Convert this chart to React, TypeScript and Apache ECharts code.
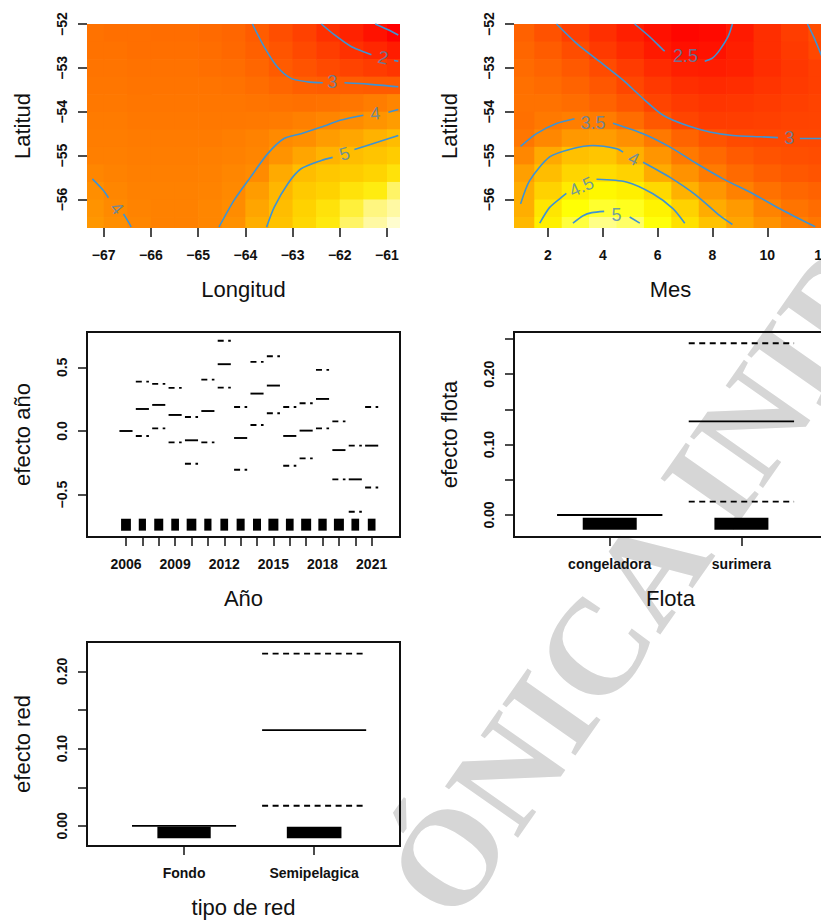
import { useEffect, useRef } from 'react';
import * as echarts from 'echarts';

const FONT = '"Liberation Sans", Arial, Helvetica, sans-serif';
const INK = '#111111';
const CONTOUR = '#3D93D4';
const CONTOUR_LABEL = '#4E86B6';

// ---------- Panel 1: Longitud x Latitud (fitted surface) ----------
const lonCenters = [-67.25, -66.75, -66.25, -65.75, -65.25, -64.75, -64.25, -63.75, -63.25, -62.75, -62.25, -61.75, -61.25, -60.75];
const latCenters = [-52.2, -52.6, -53.0, -53.4, -53.8, -54.2, -54.6, -55.0, -55.4, -55.8, -56.2, -56.6];
const lonLatValues = [
  [3.45, 3.40, 3.40, 3.35, 3.35, 3.30, 3.20, 3.00, 2.70, 2.40, 2.05, 1.70, 1.35, 1.00],
  [3.45, 3.45, 3.40, 3.40, 3.40, 3.35, 3.25, 3.08, 2.85, 2.60, 2.32, 2.07, 1.82, 1.55],
  [3.50, 3.50, 3.45, 3.45, 3.45, 3.40, 3.35, 3.20, 2.98, 2.82, 2.62, 2.45, 2.30, 2.15],
  [3.55, 3.55, 3.50, 3.50, 3.50, 3.50, 3.45, 3.35, 3.20, 3.07, 3.02, 3.02, 2.98, 2.97],
  [3.60, 3.60, 3.55, 3.55, 3.55, 3.55, 3.55, 3.50, 3.45, 3.42, 3.45, 3.55, 3.70, 3.88],
  [3.65, 3.65, 3.60, 3.60, 3.60, 3.60, 3.60, 3.62, 3.67, 3.77, 3.88, 4.05, 4.22, 4.42],
  [3.70, 3.70, 3.65, 3.65, 3.65, 3.67, 3.72, 3.82, 4.00, 4.12, 4.40, 4.62, 4.88, 5.08],
  [3.75, 3.75, 3.70, 3.70, 3.70, 3.75, 3.80, 3.88, 4.20, 4.60, 4.90, 5.10, 5.25, 5.40],
  [3.92, 3.82, 3.75, 3.75, 3.75, 3.80, 3.90, 4.03, 4.70, 5.10, 5.30, 5.40, 5.52, 5.65],
  [4.10, 3.92, 3.80, 3.80, 3.80, 3.85, 3.97, 4.40, 4.95, 5.35, 5.50, 5.65, 5.75, 5.85],
  [4.20, 4.00, 3.85, 3.80, 3.80, 3.90, 4.05, 4.60, 5.10, 5.50, 5.65, 5.80, 5.88, 5.92],
  [4.30, 4.10, 3.90, 3.80, 3.80, 3.90, 4.15, 4.80, 5.20, 5.55, 5.72, 5.85, 5.92, 5.97],
];
const lonTicks = [-67, -66, -65, -64, -63, -62, -61];
const latTicks = [-56, -55, -54, -53, -52];
const lonLatContours = [
  { level: '1', segments: [[[-61.25, -52.0], [-61.0, -52.12], [-60.76, -52.25]]] },
  { level: '2', segments: [[[-62.39, -52.0], [-62.11, -52.25], [-61.75, -52.52], [-61.4, -52.67], [-61.33, -52.7]], [[-60.85, -52.83], [-60.76, -52.85]]] },
  { level: '3', segments: [[[-63.85, -52.0], [-63.6, -52.52], [-63.32, -52.98], [-63.03, -53.24], [-62.68, -53.32], [-62.36, -53.34]], [[-61.9, -53.34], [-61.4, -53.37], [-60.76, -53.43]]] },
  { level: '4', segments: [[[-64.56, -56.63], [-64.24, -56.02], [-63.89, -55.49], [-63.53, -54.96], [-63.18, -54.61], [-62.82, -54.5], [-62.39, -54.35], [-61.97, -54.19], [-61.5, -54.08]], [[-60.97, -54.01], [-60.76, -53.95]]] },
  { level: '4', segments: [[[-67.24, -55.53], [-67.01, -55.79], [-66.9, -55.96]], [[-66.58, -56.33], [-66.45, -56.56], [-66.42, -56.63]]] },
  { level: '5', segments: [[[-63.55, -56.63], [-63.39, -56.18], [-63.1, -55.64], [-62.82, -55.3], [-62.39, -55.11], [-62.15, -55.04]], [[-61.69, -54.86], [-61.19, -54.69], [-60.76, -54.54]]] },
];
const lonLatLabels = [
  { text: '2', x: -61.08, y: -52.77, rot: -12 },
  { text: '3', x: -62.16, y: -53.33, rot: 0 },
  { text: '4', x: -61.25, y: -54.04, rot: 5 },
  { text: '5', x: -61.9, y: -54.96, rot: 17 },
  { text: '4', x: -66.72, y: -56.2, rot: -50 },
];

// ---------- Panel 2: Mes x Latitud ----------
const mesCenters = [1, 2, 3, 4, 5, 6, 7, 8, 9, 10, 11, 12];
const mesLatValues = [
  [3.25, 3.10, 2.92, 2.76, 2.60, 2.46, 2.36, 2.40, 2.55, 2.75, 2.90, 3.05],
  [3.30, 3.20, 3.05, 2.87, 2.72, 2.55, 2.45, 2.47, 2.60, 2.75, 2.87, 3.00],
  [3.35, 3.28, 3.17, 3.03, 2.88, 2.72, 2.60, 2.58, 2.63, 2.74, 2.84, 2.92],
  [3.40, 3.35, 3.27, 3.15, 2.99, 2.86, 2.75, 2.71, 2.74, 2.81, 2.87, 2.92],
  [3.42, 3.42, 3.37, 3.27, 3.14, 2.96, 2.87, 2.82, 2.84, 2.88, 2.92, 2.95],
  [3.40, 3.48, 3.53, 3.51, 3.37, 3.16, 2.97, 2.90, 2.91, 2.93, 2.95, 2.96],
  [3.45, 3.62, 3.78, 3.82, 3.70, 3.48, 3.28, 3.12, 3.03, 3.00, 3.00, 3.00],
  [3.62, 3.95, 4.18, 4.22, 4.02, 3.75, 3.48, 3.33, 3.19, 3.11, 3.07, 3.05],
  [3.85, 4.15, 4.38, 4.45, 4.35, 3.97, 3.72, 3.50, 3.34, 3.23, 3.16, 3.12],
  [3.98, 4.35, 4.60, 4.72, 4.65, 4.42, 4.03, 3.76, 3.56, 3.41, 3.31, 3.26],
  [4.00, 4.55, 4.82, 4.97, 4.92, 4.68, 4.35, 3.98, 3.80, 3.58, 3.44, 3.36],
  [4.10, 4.65, 5.02, 5.25, 5.15, 4.85, 4.50, 4.20, 3.92, 3.72, 3.55, 3.46],
];
const mesTicks = [2, 4, 6, 8, 10, 12];
const mesLatContours = [
  { level: '2.5', segments: [[[5.16, -52.0], [5.71, -52.29], [6.2, -52.59], [6.26, -52.62]], [[7.72, -52.85], [8.0, -52.78], [8.27, -52.59], [8.57, -52.29], [8.73, -52.0]]] },
  { level: '3', segments: [[[2.31, -52.0], [3.04, -52.44], [3.89, -52.86], [4.74, -53.28], [5.47, -53.7], [6.2, -54.08], [7.05, -54.31], [7.9, -54.46], [8.75, -54.54], [9.73, -54.57], [10.39, -54.59]], [[11.19, -54.61], [12.0, -54.61]]] },
  { level: '3', segments: [[[11.47, -52.0], [11.7, -52.3], [11.92, -52.63], [12.0, -52.75]]] },
  { level: '3.5', segments: [[[1.0, -54.79], [1.58, -54.5], [2.31, -54.27], [2.97, -54.16]], [[4.37, -54.26], [5.47, -54.5], [6.44, -54.8], [7.42, -55.18], [8.39, -55.53], [9.48, -55.87], [10.46, -56.21], [11.55, -56.56], [11.75, -56.62]]] },
  { level: '4', segments: [[[1.0, -56.1], [1.33, -55.57], [2.06, -55.03], [2.91, -54.84], [3.64, -54.77], [4.5, -54.84], [4.74, -54.92]], [[5.47, -55.15], [6.44, -55.49], [7.42, -55.91], [8.27, -56.37], [8.73, -56.57]]] },
  { level: '4.5', segments: [[[1.7, -56.54], [2.06, -56.18], [2.49, -55.95], [2.67, -55.86]], [[3.77, -55.54], [4.86, -55.6], [5.83, -55.87], [6.56, -56.21], [6.99, -56.54]]] },
  { level: '5', segments: [[[2.91, -56.54], [3.28, -56.37], [3.6, -56.3], [4.05, -56.27]], [[4.98, -56.4], [5.35, -56.54]]] },
];
const mesLatLabels = [
  { text: '2.5', x: 7.02, y: -52.72, rot: 0 },
  { text: '3', x: 10.8, y: -54.6, rot: 0 },
  { text: '3.5', x: 3.64, y: -54.25, rot: 0 },
  { text: '4', x: 5.12, y: -55.07, rot: -26 },
  { text: '4.5', x: 3.22, y: -55.71, rot: 25 },
  { text: '5', x: 4.5, y: -56.36, rot: 0 },
];

// ---------- Panel 3: year effect ----------
const years = [2006, 2007, 2008, 2009, 2010, 2011, 2012, 2013, 2014, 2015, 2016, 2017, 2018, 2019, 2020, 2021];
const yearEffect = [0, 0.173, 0.205, 0.126, -0.073, 0.157, 0.525, -0.055, 0.294, 0.357, -0.039, 0.003, 0.252, -0.15, -0.38, -0.115];
const yearUpper = [null, 0.388, 0.37, 0.339, 0.11, 0.404, 0.709, 0.189, 0.543, 0.588, 0.189, 0.218, 0.48, 0.076, -0.115, 0.189];
const yearLower = [null, -0.039, 0.021, -0.089, -0.257, -0.089, 0.341, -0.304, 0.047, 0.139, -0.273, -0.215, 0.021, -0.38, -0.635, -0.444];
const yearRugSpread = [0.6, 0.44, 0.55, 0.47, 0.59, 0.44, 0.47, 0.49, 0.49, 0.61, 0.47, 0.61, 0.51, 0.61, 0.47, 0.47];
const yearLabelTicks = [2006, 2009, 2012, 2015, 2018, 2021];
const yearEffectTicks = [-0.5, 0, 0.5];

// ---------- Panel 4: fleet effect ----------
const flotaLevels = ['congeladora', 'surimera'];
const flotaEffect = [0, 0.133];
const flotaUpper = [null, 0.244];
const flotaLower = [null, 0.019];
const flotaRugSpread = [0.41, 0.41];
const flotaTicks = [0, 0.05, 0.1, 0.15, 0.2, 0.25];
const flotaLabelTicks = [0, 0.1, 0.2];

// ---------- Panel 5: net type effect ----------
const redLevels = ['Fondo', 'Semipelagica'];
const redEffect = [0, 0.124];
const redUpper = [null, 0.223];
const redLower = [null, 0.026];
const redRugSpread = [0.41, 0.42];
const redTicks = [0, 0.05, 0.1, 0.15, 0.2];
const redLabelTicks = [0, 0.1, 0.2];

// ---------- helpers ----------
const hex2 = (n: number) => Math.round(n).toString(16).padStart(2, '0');
const rgb = (r: number, g: number, b: number) => '#' + hex2(r) + hex2(g) + hex2(b);
function heatColors(n: number) {
  const j = Math.floor(n / 4);
  const i = n - j;
  const out: string[] = [];
  for (let k = 0; k < i; k++) out.push(rgb(255, 255 * (k / (i - 1)), 0));
  const s0 = 1 - 1 / (2 * j);
  const s1 = 1 / (2 * j);
  for (let k = 0; k < j; k++) {
    const s = s0 + (k * (s1 - s0)) / (j - 1);
    out.push(rgb(255, 255, 255 * (1 - s)));
  }
  return out;
}
const lonLatPalette = [
  '#FF0000', '#FF0D00', '#FF1A00', '#FF2400', '#FF2E00', '#FF3A00', '#FF4500', '#FF5000', '#FF5C00', '#FF6800',
  '#FF7400', '#FF7F00', '#FF8A00', '#FF9500', '#FFA000', '#FFAC00', '#FFB800', '#FFC400', '#FFD200', '#FFEC10', '#FFFFE8',
];

const fmtNum = (d: number) => (v: number) => (v < 0 ? '\u2212' : '') + Math.abs(v).toFixed(d);

const tickStyle = { show: true, length: 9, lineStyle: { color: INK, width: 1.5 } };
const labelBase = { fontSize: 14, fontWeight: 'bold', color: INK, fontFamily: FONT };
const nameStyle = { fontSize: 22, color: INK, fontFamily: FONT };

function xAxis(gi: number, min: number, max: number, ticks: number[], labels: number[], fmt: any, name: string) {
  return {
    type: 'value', gridIndex: gi, min, max, name, nameLocation: 'middle', nameGap: 50, nameTextStyle: nameStyle,
    axisLine: { show: false, onZero: false },
    axisTick: { ...tickStyle, customValues: ticks },
    axisLabel: { ...labelBase, customValues: labels, formatter: fmt, margin: 20 },
    splitLine: { show: false },
  };
}
function yAxis(gi: number, min: number, max: number, ticks: number[], labels: number[], fmt: any, name: string) {
  return {
    type: 'value', gridIndex: gi, min, max, name, nameLocation: 'middle', nameGap: 54, nameTextStyle: nameStyle,
    axisLine: { show: false, onZero: false },
    axisTick: { ...tickStyle, customValues: ticks },
    axisLabel: { ...labelBase, customValues: labels, formatter: fmt, margin: 18, rotate: 90 },
    splitLine: { show: false },
  };
}

function heatSeries(gi: number, xs: number[], ys: number[], values: number[][]) {
  const dx = Math.abs(xs[1] - xs[0]);
  const dy = Math.abs(ys[1] - ys[0]);
  const data: number[][] = [];
  values.forEach((row, r) => row.forEach((v, c) => data.push([xs[c], ys[r], v])));
  return {
    type: 'custom', xAxisIndex: gi, yAxisIndex: gi, data, clip: true, silent: true, z: 1,
    encode: { x: 0, y: 1 },
    renderItem: (_p: any, api: any) => {
      const x = api.value(0);
      const y = api.value(1);
      const a = api.coord([x - dx / 2, y + dy / 2]);
      const b = api.coord([x + dx / 2, y - dy / 2]);
      return {
        type: 'rect',
        shape: { x: a[0], y: a[1], width: b[0] - a[0] + 0.7, height: b[1] - a[1] + 0.7 },
        style: { fill: api.visual('color'), stroke: null },
      };
    },
  };
}

function contourSeries(gi: number, contours: { level: string; segments: number[][][] }[]) {
  const out: any[] = [];
  contours.forEach((c) =>
    c.segments.forEach((seg) =>
      out.push({
        type: 'line', xAxisIndex: gi, yAxisIndex: gi, data: seg, symbol: 'none', silent: true, z: 3,
        smooth: 0.25, clip: true, lineStyle: { color: CONTOUR, width: 1.6 }, name: 'contour ' + c.level,
      }),
    ),
  );
  return out;
}
function contourLabelSeries(gi: number, labels: { text: string; x: number; y: number; rot: number }[]) {
  return {
    type: 'scatter', xAxisIndex: gi, yAxisIndex: gi, symbolSize: 1, silent: true, z: 4,
    itemStyle: { color: 'rgba(0,0,0,0)' },
    label: { show: true, position: 'inside', formatter: '{b}', fontSize: 18, color: CONTOUR_LABEL, fontFamily: FONT },
    data: labels.map((l) => ({ name: l.text, value: [l.x, l.y], label: { rotate: l.rot } })),
  };
}

function segmentSeries(gi: number, xs: number[], ys: (number | null)[], dashed: boolean) {
  const data = xs.map((x, i) => (ys[i] == null ? null : [x, ys[i]])).filter((d) => d != null);
  const half = 0.4;
  return {
    type: 'custom', xAxisIndex: gi, yAxisIndex: gi, data, clip: true, silent: true, z: 5,
    encode: { x: 0, y: 1 },
    renderItem: (_p: any, api: any) => {
      const x = api.value(0);
      const y = api.value(1);
      const a = api.coord([x - half, y]);
      const b = api.coord([x + half, y]);
      return {
        type: 'line',
        shape: { x1: a[0], y1: a[1], x2: b[0], y2: b[1] },
        style: { stroke: '#000', lineWidth: 1.9, lineDash: dashed ? [6, 4.5] : null },
      };
    },
  };
}
function rugSeries(gi: number, xs: number[], spreads: number[], yTop: number, yBottom: number) {
  const data = xs.map((x, i) => [x, spreads[i]]);
  return {
    type: 'custom', xAxisIndex: gi, yAxisIndex: gi, data, clip: true, silent: true, z: 5,
    encode: { x: 0 },
    renderItem: (_p: any, api: any) => {
      const x = api.value(0);
      const w = api.value(1);
      const a = api.coord([x - w / 2, yTop]);
      const b = api.coord([x + w / 2, yBottom]);
      return { type: 'rect', shape: { x: a[0], y: a[1], width: b[0] - a[0], height: b[1] - a[1] }, style: { fill: '#000' } };
    },
  };
}

function buildOption() {
  const box = { show: true, borderColor: INK, borderWidth: 2, backgroundColor: 'rgba(0,0,0,0)' };
  const flotaX = flotaLevels.map((_, i) => i + 1);
  const redX = redLevels.map((_, i) => i + 1);
  const series: any[] = [
    heatSeries(0, lonCenters, latCenters, lonLatValues),
    heatSeries(1, mesCenters, latCenters, mesLatValues),
    ...contourSeries(0, lonLatContours),
    ...contourSeries(1, mesLatContours),
    contourLabelSeries(0, lonLatLabels),
    contourLabelSeries(1, mesLatLabels),
    segmentSeries(2, years, yearEffect, false),
    segmentSeries(2, years, yearUpper, true),
    segmentSeries(2, years, yearLower, true),
    rugSeries(2, years, yearRugSpread, -0.689, -0.783),
    segmentSeries(3, flotaX, flotaEffect, false),
    segmentSeries(3, flotaX, flotaUpper, true),
    segmentSeries(3, flotaX, flotaLower, true),
    rugSeries(3, flotaX, flotaRugSpread, -0.004, -0.021),
    segmentSeries(4, redX, redEffect, false),
    segmentSeries(4, redX, redUpper, true),
    segmentSeries(4, redX, redLower, true),
    rugSeries(4, redX, redRugSpread, -0.001, -0.016),
  ];
  return {
    animation: false,
    backgroundColor: '#ffffff',
    textStyle: { fontFamily: FONT },
    grid: [
      { left: 87, top: 24, width: 313, height: 204, show: false },
      { left: 514, top: 24, width: 313, height: 204, show: false },
      { left: 87, top: 332, width: 313, height: 205, ...box },
      { left: 514, top: 332, width: 313, height: 205, ...box },
      { left: 87, top: 642, width: 313, height: 204, ...box },
    ],
    xAxis: [
      xAxis(0, -67.354, -60.724, lonTicks, lonTicks, fmtNum(0), 'Longitud'),
      xAxis(1, 0.76, 12.18, mesTicks, mesTicks, fmtNum(0), 'Mes'),
      xAxis(2, 2003.62, 2022.73, years, yearLabelTicks, fmtNum(0), 'Año'),
      xAxis(3, 0.273, 2.65, flotaX, flotaX, (v: number) => flotaLevels[Math.round(v) - 1], 'Flota'),
      xAxis(4, 0.254, 2.66, redX, redX, (v: number) => redLevels[Math.round(v) - 1], 'tipo de red'),
    ],
    yAxis: [
      yAxis(0, -56.65, -52, latTicks, latTicks, fmtNum(0), 'Latitud'),
      yAxis(1, -56.65, -52, latTicks, latTicks, fmtNum(0), 'Latitud'),
      yAxis(2, -0.833, 0.778, yearEffectTicks, yearEffectTicks, fmtNum(1), 'efecto año'),
      yAxis(3, -0.0313, 0.26, flotaTicks, flotaLabelTicks, fmtNum(2), 'efecto flota'),
      yAxis(4, -0.026, 0.238, redTicks, redLabelTicks, fmtNum(2), 'efecto red'),
    ],
    visualMap: [
      { type: 'continuous', show: false, seriesIndex: 0, dimension: 2, min: 1, max: 6, inRange: { color: lonLatPalette } },
      { type: 'continuous', show: false, seriesIndex: 1, dimension: 2, min: 2.3, max: 5.6, inRange: { color: heatColors(50) } },
    ],
    graphic: [
      {
        type: 'text', x: 418, y: 900, rotation: (55 * Math.PI) / 180, z: -10, silent: true,
        style: { text: 'ÓNICA INIDEP', font: 'bold 136px "Liberation Serif", "DejaVu Serif", serif', fill: '#D6D6D6', align: 'left', verticalAlign: 'middle' },
      },
    ],
    series,
  };
}

export default function App() {
  const ref = useRef<HTMLDivElement>(null);
  useEffect(() => {
    if (!ref.current) return;
    const chart = echarts.init(ref.current, undefined, { renderer: 'svg' });
    chart.setOption(buildOption() as any);
    return () => chart.dispose();
  }, []);
  return <div ref={ref} style={{ position: 'fixed', left: 0, top: 0, width: 835, height: 920 }} />;
}
